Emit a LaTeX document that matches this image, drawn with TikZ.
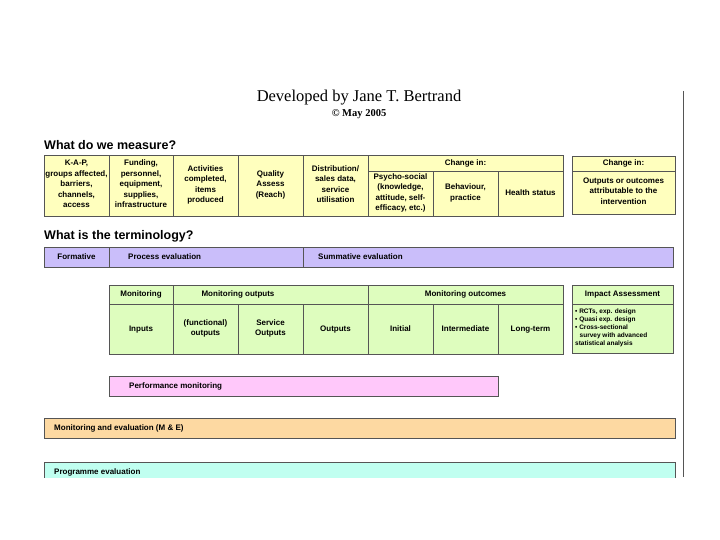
\documentclass[tikz,border=0pt]{standalone}
\usepackage{fontspec}
\setmainfont{Liberation Sans}
\newfontfamily\timesf{Liberation Serif}
\definecolor{bd}{RGB}{85,85,85}
\definecolor{shd}{RGB}{170,170,170}
\definecolor{ylw}{RGB}{255,255,190}
\definecolor{prp}{RGB}{202,190,250}
\definecolor{grn}{RGB}{222,253,190}
\definecolor{pnk}{RGB}{255,200,250}
\definecolor{org}{RGB}{253,217,162}
\definecolor{cyn}{RGB}{192,255,240}
\newcommand\cbox[7]{\node[cell,fill=#6,minimum width={(#4-#2)*1pt},minimum height={(#5-#3)*1pt}] (#1) at ({(#2+#4)/2},{(#3+#5)/2}) {#7};}
\newcommand\shadowbox[4]{\fill[shd] ({#1+1.3},{#2+1.3}) rectangle ({#3+1.3},{#4+1.3});}
\begin{document}
\begin{tikzpicture}[x=1pt,y=-1pt,
  cell/.style={draw=bd,line width=0.7pt,inner sep=0pt,align=center,font=\fontsize{8}{10.5}\selectfont\bfseries,text=black,
    execute at begin node={\strut},execute at end node={\strut}},
  lbl/.style={anchor=west,inner sep=0pt,font=\fontsize{8}{10}\selectfont\bfseries,text=black},
  head/.style={anchor=west,inner sep=0pt,font=\fontsize{12.5}{14}\selectfont\bfseries,text=black}]
\useasboundingbox (0,0) rectangle (720,540);
\fill[white] (0,0) rectangle (720,540);

% title
\node[inner sep=0pt,font=\timesf\fontsize{16.5}{18}\selectfont] (title) at (359,98) {Developed by Jane T. Bertrand};
\node[inner sep=0pt,font=\timesf\fontsize{10.5}{12}\selectfont\bfseries] (copy) at (359,114) {© May 2005};

% right vertical line
\coordinate (vt) at (683,91);
\coordinate (vb) at (683,477);
\draw[bd,line width=0.8pt] (vt) -- (vb);

% What do we measure?
\node[head] (h1) at (44,145) {What do we measure?};
\shadowbox{44}{155}{563}{216}
\cbox{kap}{44}{155}{109}{216}{ylw}{K-A-P,\\groups affected,\\barriers,\\channels,\\access}
\cbox{fund}{109}{155}{173}{216}{ylw}{Funding,\\personnel,\\equipment,\\supplies,\\infrastructure}
\cbox{act}{173}{155}{238}{216}{ylw}{Activities\\completed,\\items\\produced}
\cbox{qual}{238}{155}{303}{216}{ylw}{Quality\\Assess\\(Reach)}
\cbox{dist}{303}{155}{368}{216}{ylw}{Distribution/\\sales data,\\service\\utilisation}
\cbox{chg}{368}{155}{563}{171}{ylw}{Change in:}
\cbox{psy}{368}{171}{433}{216}{ylw}{Psycho-social\\(knowledge,\\attitude, self-\\efficacy, etc.)}
\cbox{beh}{433}{171}{498}{216}{ylw}{Behaviour,\\practice}
\cbox{hlth}{498}{171}{563}{216}{ylw}{Health status}
\shadowbox{572}{156}{675}{214}
\cbox{chg2}{572}{156}{675}{171}{ylw}{Change in:}
\cbox{attr}{572}{171}{675}{214}{ylw}{Outputs or outcomes\\attributable to the\\intervention}

% What is the terminology?
\node[head] (h2) at (44,236) {What is the terminology?};
\shadowbox{44}{247}{673}{267}
\cbox{form}{44}{247}{109}{267}{prp}{Formative}
\cbox{proc}{109}{247}{303}{267}{prp}{}
\cbox{summ}{303}{247}{673}{267}{prp}{}
\node[lbl] (proct) at (128,257) {Process evaluation};
\node[lbl] (summt) at (318,257) {Summative evaluation};

% Monitoring table
\shadowbox{109}{285}{563}{354}
\cbox{mon}{109}{285}{173}{304}{grn}{Monitoring}
\cbox{monout}{173}{285}{368}{304}{grn}{}
\node[inner sep=0pt,font=\fontsize{8}{10}\selectfont\bfseries] (monoutt) at (238,294.5) {\strut Monitoring outputs};
\cbox{monoc}{368}{285}{563}{304}{grn}{Monitoring outcomes}
\cbox{inp}{109}{304}{173}{354}{grn}{Inputs}
\cbox{func}{173}{304}{238}{354}{grn}{(functional)\\outputs}
\cbox{serv}{238}{304}{303}{354}{grn}{Service\\Outputs}
\cbox{outp}{303}{304}{368}{354}{grn}{Outputs}
\cbox{init}{368}{304}{433}{354}{grn}{Initial}
\cbox{inter}{433}{304}{498}{354}{grn}{Intermediate}
\cbox{long}{498}{304}{563}{354}{grn}{Long-term}
\shadowbox{572}{285}{673}{353}
\cbox{imp}{572}{285}{673}{304}{grn}{Impact Assessment}
\cbox{impb}{572}{304}{673}{353}{grn}{}
\node[anchor=north west,inner sep=0pt,align=left,font=\fontsize{6.5}{8}\selectfont\bfseries] (impt) at (575,309)
  {• RCTs, exp. design\\• Quasi exp. design\\• Cross-sectional\\\hspace*{4.5pt}survey with advanced\\statistical analysis};

% Performance monitoring
\shadowbox{109}{376}{498}{396}
\cbox{perf}{109}{376}{498}{396}{pnk}{}
\node[lbl] (perft) at (129,386.5) {Performance monitoring};

% M & E
\shadowbox{44}{418}{675}{438}
\cbox{me}{44}{418}{675}{438}{org}{}
\node[lbl] (met) at (54,428.5) {Monitoring and evaluation (M \& E)};

% Programme evaluation (cut off)
\begin{scope}
\clip (0,0) rectangle (720,477);
\shadowbox{44}{462}{675}{500}
\cbox{prog}{44}{462}{675}{500}{cyn}{}
\end{scope}
\node[lbl] (progt) at (54,472) {Programme evaluation};
\end{tikzpicture}
\end{document}
